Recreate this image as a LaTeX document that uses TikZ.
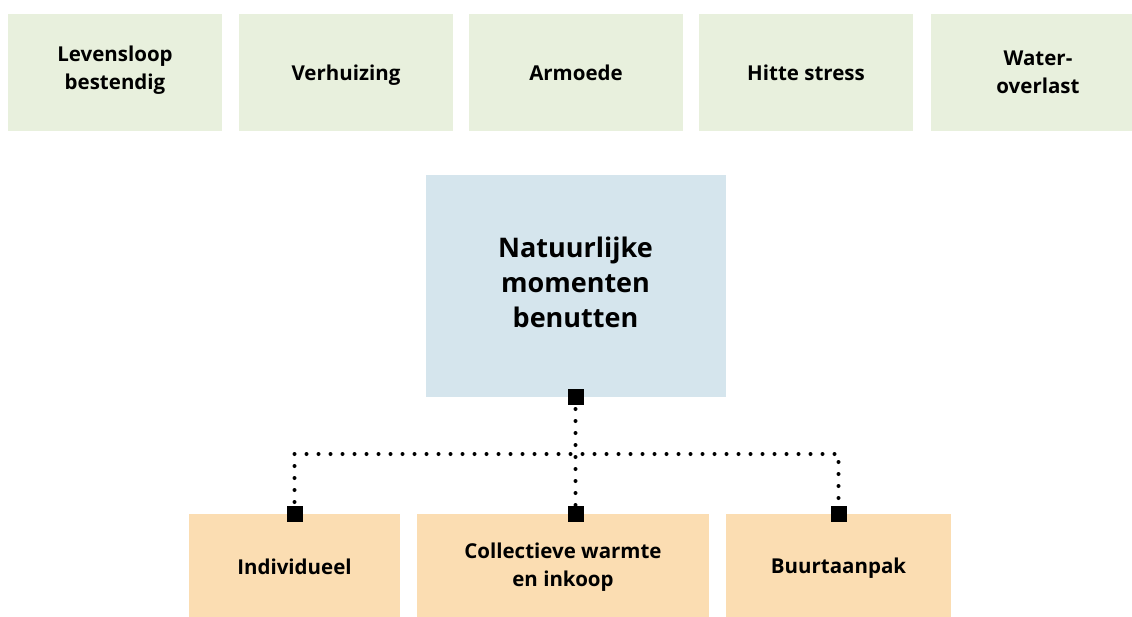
\documentclass[tikz,border=0pt]{standalone}
\usepackage{fontspec}
\setmainfont{Open Sans}
\definecolor{topgreen}{RGB}{232,240,221}
\definecolor{midblue}{RGB}{213,229,237}
\definecolor{botorange}{RGB}{251,221,178}
\tikzset{
  topbox/.style={fill=topgreen, draw=none, minimum width=214pt, minimum height=117pt, inner sep=0pt, align=center, font=\bfseries\fontsize{20.5}{27.5}\selectfont},
  midbox/.style={fill=midblue, draw=none, minimum width=300pt, minimum height=222pt, inner sep=0pt},
  midtext/.style={inner sep=0pt, align=center, font=\bfseries\fontsize{27}{35}\selectfont},
  botbox/.style={fill=botorange, draw=none, minimum height=106pt, inner sep=0pt, align=center, font=\bfseries\fontsize{20.5}{27.5}\selectfont},
  toptext/.style={inner sep=0pt, align=center, font=\bfseries\fontsize{20.5}{27.5}\selectfont},
  sqmark/.style={fill=black, draw=none, minimum size=16pt, inner sep=0pt},
  dotline/.style={line width=4pt, line cap=round, dash pattern=on 0pt off 12pt}
}
\begin{document}
\begin{tikzpicture}[x=1pt, y=-1pt]
\clip (0,0) rectangle (1132,616);
\fill[white] (0,0) rectangle (1132,616);
% top row
\node[topbox] (t1) at (115,72.5) {};
\node[toptext] (t1txt) at (115,70) {Levensloop\\bestendig};
\node[topbox] (t2) at (346,72.5) {};
\node[toptext] (t2txt) at (346,75) {Verhuizing};
\node[topbox] (t3) at (576,72.5) {Armoede};
\node[topbox] (t4) at (806,72.5) {Hitte stress};
\node[topbox] (t5) at (1038,72.5) {Water-\\overlast};
% middle
\node[midbox] (m) at (575.5,286) {};
\node[midtext] (mt) at (575.5,282) {Natuurlijke\\momenten\\benutten};
% bottom
\node[botbox, minimum width=211pt] (b1) at (294.5,567) {Individueel};
\node[botbox, minimum width=292pt] (b2) at (563,567) {Collectieve warmte\\en inkoop};
\node[botbox, minimum width=225pt] (b3) at (838.5,567) {};
\node[toptext] (b3txt) at (838.5,568) {Buurtaanpak};
% connectors
\coordinate (hl) at (575.5,454);
\coordinate (p0) at (575.5,397);
\coordinate (p1) at (294.5,514);
\coordinate (p2) at (575.5,514);
\coordinate (p3) at (838.5,514);
\draw[dotline] (p0) -- (p2);
\draw[dotline] (p1) |- (hl) -| (p3);
% squares on top
\node[sqmark] (s0) at (p0) {};
\node[sqmark] (s1) at (p1) {};
\node[sqmark] (s2) at (p2) {};
\node[sqmark] (s3) at (p3) {};
\end{tikzpicture}
\end{document}
